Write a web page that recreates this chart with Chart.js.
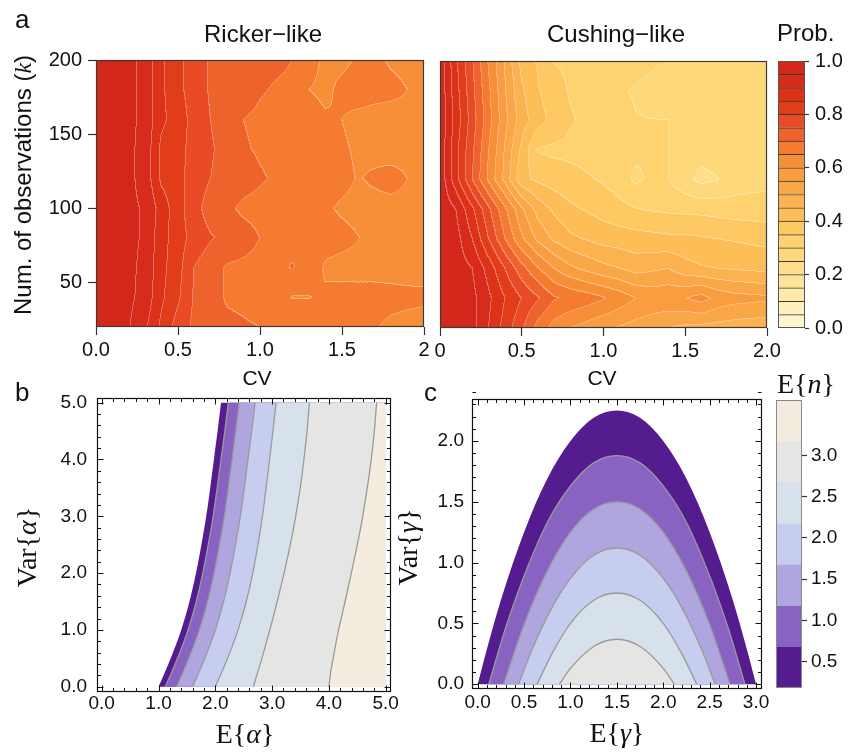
<!DOCTYPE html>
<html lang="en">
<head>
<meta charset="utf-8">
<title>Ricker / Cushing contour panels</title>
<script src="https://cdn.jsdelivr.net/npm/chart.js@4.4.1/dist/chart.umd.min.js"></script>
<style>
  html, body { margin: 0; padding: 0; background: #fff; }
  #page { position: relative; width: 853px; height: 755px; overflow: hidden; background: #fff; }
  #page canvas { position: absolute; left: 0; top: 0; }
</style>
</head>
<body>
<div id="page">
  <canvas id="ricker" width="853" height="755"></canvas>
  <canvas id="cushing" width="853" height="755"></canvas>
  <canvas id="probBar" width="853" height="755"></canvas>
  <canvas id="alpha" width="853" height="755"></canvas>
  <canvas id="gamma" width="853" height="755"></canvas>
  <canvas id="nBar" width="853" height="755"></canvas>
</div>
<script>
// ---------- panel a: probability on a CV x k grid (rows go k = 20 .. 200) ----------
const cvGrid = [0, 0.1, 0.2, 0.3, 0.4, 0.5, 0.6, 0.7, 0.8, 0.9, 1.0, 1.1, 1.2, 1.3, 1.4, 1.5, 1.6, 1.7, 1.8, 1.9, 2.0];
const kGrid = [20, 40, 60, 80, 100, 120, 140, 160, 180, 200];

const rickerProb = [
  [.99, .98, .955, .91, .84, .78, .74, .72, .71, .705, .70, .69, .68, .67, .665, .66, .655, .652, .645, .642, .64],
  [.99, .98, .96, .935, .86, .81, .745, .72, .695, .69, .68, .665, .648, .649, .655, .66, .66, .66, .658, .656, .655],
  [.99, .98, .96, .94, .865, .82, .75, .72, .695, .69, .685, .69, .703, .68, .645, .64, .64, .64, .64, .64, .64],
  [.99, .98, .96, .945, .87, .825, .78, .755, .735, .72, .70, .69, .685, .675, .665, .66, .651, .64, .64, .64, .64],
  [.99, .98, .96, .945, .88, .82, .77, .726, .71, .69, .685, .68, .675, .665, .655, .645, .64, .64, .64, .64, .64],
  [.99, .98, .96, .935, .84, .815, .78, .75, .735, .72, .705, .695, .69, .68, .67, .66, .648, .655, .662, .65, .64],
  [.99, .98, .96, .935, .84, .815, .785, .755, .735, .705, .695, .685, .68, .67, .665, .655, .645, .64, .635, .64, .64],
  [.99, .98, .96, .94, .86, .83, .78, .75, .73, .70, .69, .685, .68, .67, .655, .65, .64, .635, .635, .64, .64],
  [.99, .98, .96, .94, .86, .815, .775, .745, .74, .725, .705, .695, .69, .65, .64, .66, .67, .665, .66, .65, .64],
  [.99, .98, .96, .94, .86, .81, .78, .745, .74, .73, .72, .71, .70, .67, .64, .64, .655, .66, .645, .64, .64]
];

const cushingProb = [
  [.99, .985, .965, .90, .83, .76, .68, .63, .60, .58, .56, .545, .53, .52, .50, .49, .485, .48, .475, .47, .47],
  [.99, .98, .965, .91, .85, .80, .755, .705, .69, .675, .655, .63, .60, .585, .59, .598, .62, .585, .57, .565, .56],
  [.99, .975, .95, .88, .80, .72, .655, .60, .56, .535, .515, .50, .48, .49, .50, .47, .455, .45, .445, .44, .435],
  [.99, .97, .90, .80, .70, .61, .54, .49, .46, .445, .43, .425, .42, .415, .41, .41, .405, .40, .395, .39, .385],
  [.99, .95, .86, .76, .66, .56, .48, .44, .41, .395, .38, .365, .352, .345, .34, .337, .335, .33, .325, .323, .3225],
  [.99, .87, .75, .64, .535, .415, .39, .375, .365, .355, .345, .325, .29, .31, .30, .265, .235, .248, .27, .28, .285],
  [.99, .865, .76, .65, .545, .44, .345, .34, .338, .335, .33, .32, .31, .305, .30, .285, .27, .275, .285, .285, .285],
  [.99, .88, .775, .67, .565, .475, .42, .385, .355, .34, .33, .32, .302, .301, .30, .28, .275, .28, .285, .285, .285],
  [.99, .87, .765, .66, .555, .46, .405, .37, .345, .335, .32, .305, .295, .28, .249, .27, .28, .285, .285, .285, .285],
  [.99, .86, .755, .645, .545, .435, .395, .348, .342, .338, .335, .33, .32, .31, .302, .295, .29, .29, .288, .285, .285]
];

const probLevels = [0, 0.05, 0.1, 0.15, 0.2, 0.25, 0.3, 0.35, 0.4, 0.45, 0.5, 0.55, 0.6, 0.65, 0.7, 0.75, 0.8, 0.85, 0.9, 0.95, 1.0];
const probColors = ['#FFF6D0', '#FFF0BC', '#FFEAAA', '#FEE499', '#FEDE8A', '#FED97C', '#FED26F', '#FEC862', '#FDBD57', '#FCB24E',
                    '#FAA847', '#F99D40', '#F78F39', '#F47B30', '#EE622B', '#E84B25', '#E23D1B', '#DE3218', '#D92B1B', '#D3271C'];

const cvTicks = [0, 0.5, 1, 1.5, 2];
const rickerCvLabels = ['0.0', '0.5', '1.0', '1.5', '2'];
const cushingCvLabels = ['0', '0.5', '1.0', '1.5', '2.0'];
const kTicks = [50, 100, 150, 200];
const probTicks = [0, 0.2, 0.4, 0.6, 0.8, 1.0];

// ---------- panel b: contour lines of E{n} over E{alpha}, Var{alpha} ----------
const alphaEdge    = [[1.00, 0], [1.11, 0.25], [1.215, 0.5], [1.312, 0.75], [1.40, 1], [1.545, 1.5], [1.66, 2], [1.755, 2.5], [1.84, 3], [1.91, 3.5], [1.975, 4], [2.04, 4.5], [2.10, 5]];
const alphaLevel05 = [[1.12, 0], [1.23, 0.25], [1.335, 0.5], [1.432, 0.75], [1.52, 1], [1.665, 1.5], [1.78, 2], [1.876, 2.5], [1.962, 3], [2.033, 3.5], [2.10, 4], [2.167, 4.5], [2.23, 5]];
const alphaLevel10 = [[1.32, 0], [1.43, 0.25], [1.535, 0.5], [1.632, 0.75], [1.72, 1], [1.865, 1.5], [1.98, 2], [2.075, 2.5], [2.16, 3], [2.23, 3.5], [2.295, 4], [2.36, 4.5], [2.42, 5]];
const alphaLevel15 = [[1.60, 0], [1.71, 0.25], [1.815, 0.5], [1.912, 0.75], [2.00, 1], [2.145, 1.5], [2.26, 2], [2.355, 2.5], [2.44, 3], [2.51, 3.5], [2.575, 4], [2.64, 4.5], [2.70, 5]];
const alphaLevel20 = [[2.00, 0], [2.11, 0.25], [2.215, 0.5], [2.312, 0.75], [2.40, 1], [2.545, 1.5], [2.66, 2], [2.75, 2.5], [2.83, 3], [2.895, 3.5], [2.955, 4], [3.015, 4.5], [3.07, 5]];
const alphaLevel25 = [[2.67, 0], [2.745, 0.25], [2.82, 0.5], [2.89, 0.75], [2.96, 1], [3.09, 1.5], [3.21, 2], [3.32, 2.5], [3.415, 3], [3.495, 3.5], [3.56, 4], [3.615, 4.5], [3.655, 5]];
const alphaLevel30 = [[4.00, 0], [4.03, 0.25], [4.075, 0.5], [4.12, 0.75], [4.17, 1], [4.285, 1.5], [4.395, 2], [4.50, 2.5], [4.595, 3], [4.675, 3.5], [4.745, 4], [4.80, 4.5], [4.84, 5]];
const alphaTicks = [0, 1, 2, 3, 4, 5];

// ---------- panel c: contour lines of E{n} over E{gamma}, Var{gamma} ----------
const gammaEdge    = [[0, 0], [0.1, 0.29], [0.25, 0.69], [0.5, 1.25], [0.75, 1.69], [1.0, 2.0], [1.25, 2.19], [1.5, 2.25], [1.75, 2.19], [2.0, 2.0], [2.25, 1.69], [2.5, 1.25], [2.75, 0.69], [2.9, 0.29], [3.0, 0]];
const gammaLevel05 = [[0.12, 0], [0.3, 0.46], [0.5, 0.89], [0.75, 1.33], [1.0, 1.63], [1.25, 1.82], [1.5, 1.88], [1.75, 1.82], [2.0, 1.63], [2.25, 1.33], [2.5, 0.89], [2.7, 0.46], [2.88, 0]];
const gammaLevel10 = [[0.28, 0], [0.5, 0.49], [0.75, 0.93], [1.0, 1.25], [1.25, 1.44], [1.5, 1.5], [1.75, 1.44], [2.0, 1.25], [2.25, 0.93], [2.5, 0.49], [2.72, 0]];
const gammaLevel15 = [[0.44, 0], [0.6, 0.31], [0.8, 0.63], [1.0, 0.87], [1.25, 1.06], [1.5, 1.12], [1.75, 1.06], [2.0, 0.87], [2.2, 0.63], [2.4, 0.31], [2.56, 0]];
const gammaLevel20 = [[0.64, 0], [0.8, 0.25], [1.0, 0.5], [1.25, 0.69], [1.5, 0.75], [1.75, 0.69], [2.0, 0.5], [2.2, 0.25], [2.36, 0]];
const gammaLevel25 = [[0.88, 0], [1.0, 0.13], [1.25, 0.31], [1.5, 0.37], [1.75, 0.31], [2.0, 0.13], [2.12, 0]];
const gammaTicks = [0, 0.5, 1, 1.5, 2, 2.5, 3];
const varGammaTicks = [0, 0.5, 1, 1.5, 2];

// E{n} legend
const nColors = ['#551C90', '#8963C1', '#AFA5DF', '#C7CDEE', '#D6E1EC', '#E5E6E3', '#F3ECDF'];
const nBandLo = [0.177, 0.67, 1.17, 1.67, 2.17, 2.67, 3.17];
const nBandHi = [0.67, 1.17, 1.67, 2.17, 2.67, 3.17, 3.677];
const nTicks = [0.5, 1.0, 1.5, 2.0, 2.5, 3.0];

// ---------- helpers ----------
const sans = s => s + 'px "Liberation Sans"';
const serif = s => s + 'px "Liberation Serif"';
const serifIt = s => 'italic ' + s + 'px "Liberation Serif"';
const pts = arr => arr.map(p => ({ x: p[0], y: p[1] }));

function hexRgb(h) {
  return [parseInt(h.slice(1, 3), 16), parseInt(h.slice(3, 5), 16), parseInt(h.slice(5, 7), 16)];
}

// filled contours of a grid, coloured pixel by pixel through the chart scales
function contourPlugin(xs, ys, z) {
  const rgb = probColors.map(hexRgb);
  return {
    id: 'contour',
    beforeDatasetsDraw(chart) {
      const { ctx, chartArea: a, scales } = chart;
      const L = Math.round(a.left), T = Math.round(a.top);
      const W = Math.round(a.right) - L, H = Math.round(a.bottom) - T;
      const nx = xs.length - 1, ny = ys.length - 1;
      const band = new Int8Array(W * H);
      for (let j = 0; j < H; j++) {
        const kv = scales.y.getValueForPixel(T + j + 0.5);
        let fy = (kv - ys[0]) / (ys[ny] - ys[0]) * ny;
        fy = Math.max(0, Math.min(ny - 1e-9, fy));
        const j0 = Math.floor(fy), ty = fy - j0;
        for (let i = 0; i < W; i++) {
          const xv = scales.x.getValueForPixel(L + i + 0.5);
          let fx = (xv - xs[0]) / (xs[nx] - xs[0]) * nx;
          fx = Math.max(0, Math.min(nx - 1e-9, fx));
          const i0 = Math.floor(fx), tx = fx - i0;
          const v = z[j0][i0] * (1 - tx) * (1 - ty) + z[j0][i0 + 1] * tx * (1 - ty) +
                    z[j0 + 1][i0] * (1 - tx) * ty + z[j0 + 1][i0 + 1] * tx * ty;
          let b = 0;
          while (b < probColors.length - 1 && v >= probLevels[b + 1]) b++;
          band[j * W + i] = b;
        }
      }
      const img = ctx.createImageData(W, H);
      for (let j = 0; j < H; j++) {
        for (let i = 0; i < W; i++) {
          const p = j * W + i, b = band[p];
          const edge = (i < W - 1 && band[p + 1] !== b) || (j < H - 1 && band[p + W] !== b);
          const c = rgb[b], m = edge ? 0.32 : 0;
          img.data[p * 4] = c[0] + (255 - c[0]) * m;
          img.data[p * 4 + 1] = c[1] + (255 - c[1]) * m;
          img.data[p * 4 + 2] = c[2] + (255 - c[2]) * m;
          img.data[p * 4 + 3] = 255;
        }
      }
      ctx.putImageData(img, L, T);
    }
  };
}

// fills the region bounded by each line dataset (plus optional closing corners)
const bandPlugin = {
  id: 'bands',
  beforeDatasetsDraw(chart) {
    const { ctx, chartArea, scales } = chart;
    chart.data.datasets.forEach((ds, i) => {
      if (!ds.bandColor) return;
      const line = chart.getDatasetMeta(i).dataset;
      line.updateControlPoints(chartArea, 'x');
      ctx.save();
      ctx.beginPath();
      line.path(ctx);
      (ds.bandClose || []).forEach(p => ctx.lineTo(scales.x.getPixelForValue(p.x), scales.y.getPixelForValue(p.y)));
      ctx.closePath();
      ctx.fillStyle = ds.bandColor;
      ctx.fill();
      ctx.restore();
    });
  }
};

// box around the plot, optionally with inward major/minor ticks on all four sides
function framePlugin(cfg) {
  return {
    id: 'frame',
    afterDatasetsDraw(chart) {
      const { ctx, chartArea: a, scales } = chart;
      const L = Math.round(a.left) + 0.5, T = Math.round(a.top) + 0.5;
      const R = Math.round(a.right) - 0.5, B = Math.round(a.bottom) - 0.5;
      ctx.save();
      ctx.strokeStyle = cfg.color;
      ctx.lineWidth = cfg.width;
      ctx.strokeRect(L, T, R - L, B - T);
      if (cfg.xMajor) {
        ctx.lineWidth = 1;
        ctx.beginPath();
        const mark = (scale, vals, len) => vals.forEach(v => {
          const p = Math.round(scale.getPixelForValue(v)) + 0.5;
          if (scale.isHorizontal()) {
            ctx.moveTo(p, B); ctx.lineTo(p, B - len);
            ctx.moveTo(p, T); ctx.lineTo(p, T + len);
          } else {
            ctx.moveTo(L, p); ctx.lineTo(L + len, p);
            ctx.moveTo(R, p); ctx.lineTo(R - len, p);
          }
        });
        mark(scales.x, cfg.xMajor, 6);
        mark(scales.x, cfg.xMinor, 3.5);
        mark(scales.y, cfg.yMajor, 6);
        mark(scales.y, cfg.yMinor, 3.5);
        ctx.stroke();
      }
      ctx.restore();
    }
  };
}

function minorTicks(major, n) {
  const out = [];
  for (let i = 0; i < major.length - 1; i++) {
    const step = (major[i + 1] - major[i]) / n;
    for (let j = 1; j < n; j++) out.push(major[i] + step * j);
  }
  return out;
}

function textPlugin(items) {
  return {
    id: 'texts',
    afterDraw(chart) {
      const ctx = chart.ctx;
      items.forEach(it => {
        ctx.save();
        ctx.fillStyle = '#111';
        ctx.textBaseline = 'alphabetic';
        ctx.textAlign = 'left';
        let w = 0;
        it.runs.forEach(r => { ctx.font = r[1]; w += ctx.measureText(r[0]).width; });
        ctx.translate(it.x, it.y);
        if (it.rot) ctx.rotate(-Math.PI / 2);
        let cx = it.align === 'center' ? -w / 2 : 0;
        it.runs.forEach(r => {
          ctx.font = r[1];
          ctx.fillText(r[0], cx, 0);
          cx += ctx.measureText(r[0]).width;
        });
        ctx.restore();
      });
    }
  };
}

function baseOptions(padding) {
  return {
    responsive: false,
    animation: false,
    devicePixelRatio: 1,
    events: [],
    layout: { padding: padding },
    plugins: { legend: { display: false }, tooltip: { enabled: false } }
  };
}

function tickAxis(o) {
  return {
    type: 'linear',
    position: o.position,
    min: o.min,
    max: o.max,
    afterFit: s => { if (s.isHorizontal()) s.height = o.size; else s.width = o.size; },
    afterBuildTicks: s => { s.ticks = o.ticks.map(v => ({ value: v })); },
    grid: o.tickLength
      ? { drawOnChartArea: false, drawTicks: true, tickLength: o.tickLength, tickColor: '#333', tickWidth: 1.2 }
      : { display: false, drawTicks: false },
    border: { display: false },
    ticks: {
      autoSkip: false, maxRotation: 0, padding: o.padding, color: '#111',
      font: { family: 'Liberation Sans', size: o.font },
      callback: (v, i) => o.labels ? o.labels[i] : Number(v).toFixed(1)
    }
  };
}

// ---------- panel a, left: Ricker-like ----------
new Chart(document.getElementById('ricker'), {
  type: 'scatter',
  data: { datasets: [{ data: [], pointRadius: 0 }] },
  options: Object.assign(baseOptions({ left: 0, top: 60, right: 429, bottom: 0 }), {
    scales: {
      x: tickAxis({ min: 0, max: 2, size: 428, ticks: cvTicks, labels: rickerCvLabels, tickLength: 8, padding: 3, font: 20 }),
      y: tickAxis({ min: 20, max: 200, size: 96, ticks: kTicks, labels: kTicks.map(String), tickLength: 8, padding: 6, font: 20 })
    }
  }),
  plugins: [contourPlugin(cvGrid, kGrid, rickerProb), framePlugin({ color: '#3a3a3a', width: 1.2 })]
});

// ---------- panel a, right: Cushing-like ----------
new Chart(document.getElementById('cushing'), {
  type: 'scatter',
  data: { datasets: [{ data: [], pointRadius: 0 }] },
  options: Object.assign(baseOptions({ left: 440, top: 61, right: 86, bottom: 0 }), {
    scales: {
      x: tickAxis({ min: 0, max: 2, size: 427, ticks: cvTicks, labels: cushingCvLabels, tickLength: 8, padding: 3, font: 20 }),
      y: { type: 'linear', min: 20, max: 200, display: false }
    }
  }),
  plugins: [contourPlugin(cvGrid, kGrid, cushingProb), framePlugin({ color: '#3a3a3a', width: 1.2 })]
});

// ---------- panel a legend ----------
new Chart(document.getElementById('probBar'), {
  type: 'bar',
  data: {
    labels: [''],
    datasets: probColors.map((c, i) => ({
      data: [[probLevels[i], probLevels[i + 1]]],
      backgroundColor: c,
      borderColor: '#3a3a3a',
      borderWidth: { top: 1, bottom: 0, left: 0, right: 0 },
      borderSkipped: false,
      grouped: false,
      barPercentage: 1,
      categoryPercentage: 1
    }))
  },
  options: Object.assign(baseOptions({ left: 778, top: 61, right: 0, bottom: 427 }), {
    scales: {
      x: { display: false },
      y: tickAxis({ position: 'right', min: 0, max: 1, size: 48, ticks: probTicks, tickLength: 4, padding: 6, font: 20 })
    }
  }),
  plugins: [framePlugin({ color: '#555', width: 1 })]
});

// ---------- panel b ----------
const alphaCurves = [alphaEdge, alphaLevel05, alphaLevel10, alphaLevel15, alphaLevel20, alphaLevel25, alphaLevel30];
new Chart(document.getElementById('alpha'), {
  type: 'scatter',
  data: {
    datasets: alphaCurves.map((c, i) => ({
      data: pts(c),
      showLine: true,
      pointRadius: 0,
      cubicInterpolationMode: 'monotone',
      borderColor: '#9a9a9a',
      borderWidth: i === 0 ? 0 : 1.3,
      bandColor: nColors[i],
      bandClose: [{ x: 5, y: 5 }, { x: 5, y: 0 }]
    }))
  },
  options: Object.assign(baseOptions({ left: 0, top: 398, right: 462, bottom: 0 }), {
    scales: {
      x: tickAxis({ min: -0.083, max: 5.093, size: 63, ticks: alphaTicks, padding: 0, font: 19 }),
      y: tickAxis({ min: -0.093, max: 5.082, size: 97, ticks: alphaTicks, padding: 10, font: 19 })
    }
  }),
  plugins: [bandPlugin, framePlugin({
    color: '#111', width: 1.2,
    xMajor: alphaTicks, xMinor: minorTicks(alphaTicks, 5),
    yMajor: alphaTicks, yMinor: minorTicks(alphaTicks, 5)
  })]
});

// ---------- panel c ----------
const gammaCurves = [gammaEdge, gammaLevel05, gammaLevel10, gammaLevel15, gammaLevel20, gammaLevel25];
new Chart(document.getElementById('gamma'), {
  type: 'scatter',
  data: {
    datasets: gammaCurves.map((c, i) => ({
      data: pts(c),
      showLine: true,
      pointRadius: 0,
      cubicInterpolationMode: 'monotone',
      borderColor: '#9a9a9a',
      borderWidth: i === 0 ? 0 : 1.3,
      bandColor: nColors[i]
    }))
  },
  options: Object.assign(baseOptions({ left: 0, top: 399, right: 91, bottom: 0 }), {
    scales: {
      x: tickAxis({ min: -0.061, max: 3.064, size: 66, ticks: gammaTicks, padding: 2, font: 19 }),
      y: tickAxis({ min: -0.039, max: 2.345, size: 472, ticks: varGammaTicks, padding: 8, font: 19 })
    }
  }),
  plugins: [bandPlugin, framePlugin({
    color: '#111', width: 1.2,
    xMajor: gammaTicks, xMinor: minorTicks(gammaTicks, 5),
    yMajor: varGammaTicks, yMinor: minorTicks(varGammaTicks.concat([2.5]), 5)
  })]
});

// ---------- E{n} legend + all free text ----------
const labels = [
  { x: 15, y: 28, runs: [['a', sans(26)]] },
  { x: 15, y: 401, runs: [['b', sans(26)]] },
  { x: 424, y: 401, runs: [['c', sans(26)]] },
  { x: 263, y: 42, align: 'center', runs: [['Ricker\u2212like', sans(24)]] },
  { x: 616, y: 42, align: 'center', runs: [['Cushing\u2212like', sans(24)]] },
  { x: 777, y: 41, runs: [['Prob.', sans(24)]] },
  { x: 257, y: 385, align: 'center', runs: [['CV', sans(21)]] },
  { x: 602, y: 385, align: 'center', runs: [['CV', sans(21)]] },
  { x: 31, y: 185, align: 'center', rot: true, runs: [['Num. of observations (', sans(24)], ['k', serifIt(24)], [')', sans(24)]] },
  { x: 245, y: 743, align: 'center', runs: [['E{', serif(28)], ['\u03B1', serifIt(28)], ['}', serif(28)]] },
  { x: 36, y: 547, align: 'center', rot: true, runs: [['Var{', serif(28)], ['\u03B1', serifIt(28)], ['}', serif(28)]] },
  { x: 617, y: 742, align: 'center', runs: [['E{', serif(28)], ['\u03B3', serifIt(28)], ['}', serif(28)]] },
  { x: 417, y: 547, align: 'center', rot: true, runs: [['Var{', serif(28)], ['\u03B3', serifIt(28)], ['}', serif(28)]] },
  { x: 806, y: 393, align: 'center', runs: [['E{', serif(28)], ['n', serifIt(28)], ['}', serif(28)]] }
];

new Chart(document.getElementById('nBar'), {
  type: 'bar',
  data: {
    labels: [''],
    datasets: nColors.map((c, i) => ({
      data: [[nBandLo[i], nBandHi[i]]],
      backgroundColor: c,
      borderWidth: 0,
      grouped: false,
      barPercentage: 1,
      categoryPercentage: 1
    }))
  },
  options: Object.assign(baseOptions({ left: 776, top: 400, right: 0, bottom: 67 }), {
    scales: {
      x: { display: false },
      y: tickAxis({ position: 'right', min: nBandLo[0], max: nBandHi[nBandHi.length - 1], size: 51, ticks: nTicks, tickLength: 5, padding: 4, font: 19 })
    }
  }),
  plugins: [framePlugin({ color: '#8a8a8a', width: 1 }), textPlugin(labels)]
});
</script>
</body>
</html>
